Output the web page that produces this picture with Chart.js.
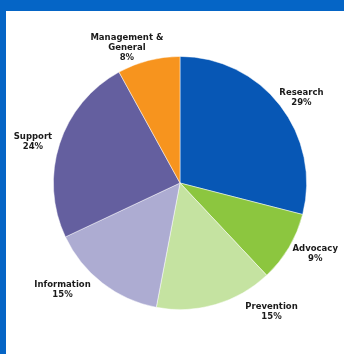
<!DOCTYPE html>
<html>
<head>
<meta charset="utf-8">
<script src="https://cdn.jsdelivr.net/npm/chart.js@4.4.0/dist/chart.umd.min.js"></script>
<style>
  html, body { margin: 0; padding: 0; }
  body { width: 344px; height: 354px; background: #0565C6; position: relative; overflow: hidden; }
  #panel { position: absolute; left: 6px; top: 11px; width: 338px; height: 343px; background: #ffffff; }
  #panel canvas { display: block; }
</style>
</head>
<body>
<div id="panel"><canvas id="c" width="338" height="343"></canvas></div>
<script>
const categories = ["Research", "Advocacy", "Prevention", "Information", "Support", "Management & General"];
const labelLines = [["Research"], ["Advocacy"], ["Prevention"], ["Information"], ["Support"], ["Management &", "General"]];
const values = [29, 9, 15, 15, 24, 8];
const colors = ["#0757B5", "#8CC63F", "#C5E3A1", "#ADACD2", "#645F9F", "#F7941E"];

// label placement styling (relative to each slice's mid angle)
const labelAngleShift = [2.6, -3, -19.3, 10, -2.5, -7];
const labelDistance = [22, 26, 31, 32, 26, 19];

const outsideLabels = {
  id: 'outsideLabels',
  afterDatasetsDraw(chart) {
    const ctx = chart.ctx;
    const meta = chart.getDatasetMeta(0);
    const total = values.reduce((a, b) => a + b, 0);
    ctx.save();
    ctx.font = "bold 8.5px 'DejaVu Sans'";
    ctx.fillStyle = "#1a1a1a";
    ctx.textAlign = "center";
    ctx.textBaseline = "middle";
    meta.data.forEach((arc, i) => {
      const p = arc.getProps(['x', 'y', 'startAngle', 'endAngle', 'outerRadius'], true);
      const mid = (p.startAngle + p.endAngle) / 2 + labelAngleShift[i] * Math.PI / 180;
      const r = p.outerRadius + labelDistance[i];
      const cx = p.x + Math.cos(mid) * r;
      const cy = p.y + Math.sin(mid) * r;
      const lines = labelLines[i].concat([Math.round(values[i] / total * 100) + "%"]);
      const lh = 10;
      const y0 = cy - (lines.length - 1) * lh / 2;
      lines.forEach((t, k) => ctx.fillText(t, cx, y0 + k * lh));
    });
    ctx.restore();
  }
};

new Chart(document.getElementById('c'), {
  type: 'pie',
  data: {
    labels: categories,
    datasets: [{
      data: values,
      backgroundColor: colors,
      borderColor: "rgba(255,255,255,0.6)",
      borderWidth: 0.8
    }]
  },
  options: {
    responsive: false,
    animation: false,
    layout: { padding: { left: 47, right: 37, top: 45, bottom: 44 } },
    plugins: { legend: { display: false }, tooltip: { enabled: false } }
  },
  plugins: [outsideLabels]
});
</script>
</body>
</html>
